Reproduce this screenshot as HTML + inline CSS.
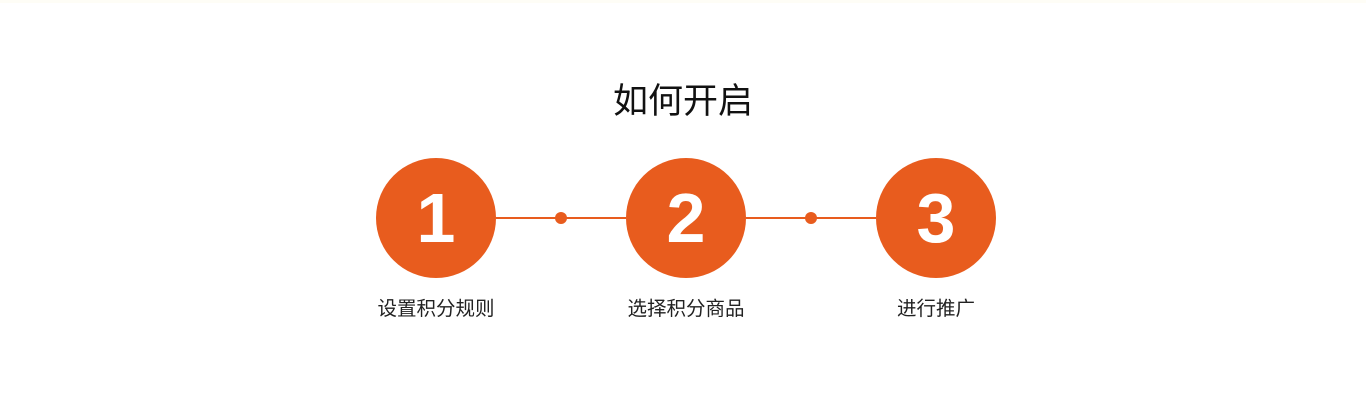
<!DOCTYPE html>
<html><head><meta charset="utf-8"><style>
html,body{margin:0;padding:0;background:#fff;width:1366px;height:400px;overflow:hidden}
body{position:relative;font-family:"Liberation Sans","Noto Sans CJK SC",sans-serif}
.t{position:absolute;left:0;width:1366px;top:80px;text-align:center;font-size:35px;color:#111;line-height:44px}
.c{position:absolute;top:158px;width:120px;height:120px;border-radius:50%;background:#E85C1E;color:#fff;text-align:center;line-height:120px;font-size:70px;font-weight:bold}
.l{position:absolute;top:296px;width:200px;text-align:center;font-size:19.5px;color:#222;line-height:26px}
.ln{position:absolute;top:217px;height:1.5px;background:#E85C1E;width:130px}
.d{position:absolute;top:212px;width:12px;height:12px;border-radius:50%;background:#E85C1E}
</style></head><body>
<div style="position:absolute;left:0;top:0;width:1366px;height:3px;background:#fefdf6"></div>
<div class="t">如何开启</div>
<div class="ln" style="left:496px"></div>
<div class="ln" style="left:746px"></div>
<div class="d" style="left:555px"></div>
<div class="d" style="left:805px"></div>
<div class="c" style="left:376px">1</div>
<div class="c" style="left:626px">2</div>
<div class="c" style="left:876px">3</div>
<div class="l" style="left:336px">设置积分规则</div>
<div class="l" style="left:586px">选择积分商品</div>
<div class="l" style="left:836px">进行推广</div>
</body></html>
